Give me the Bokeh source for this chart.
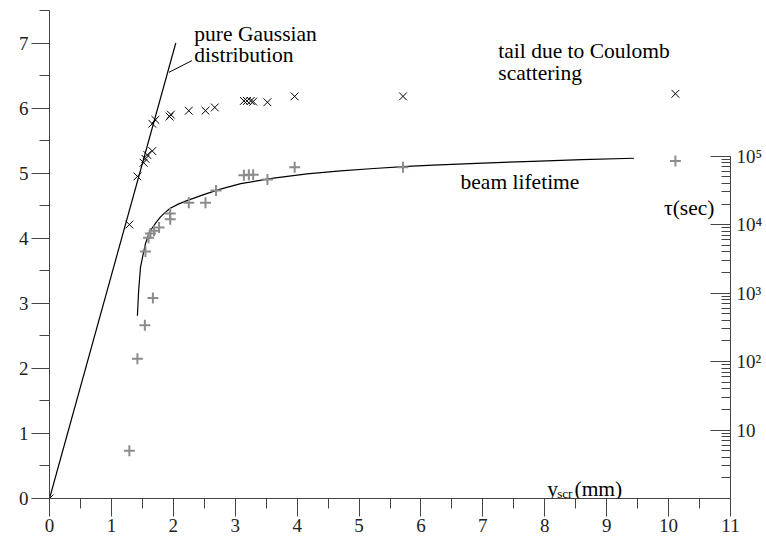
from bokeh.plotting import figure
from bokeh.models import (Range1d, LogScale, LogAxis, SingleIntervalTicker, LogTicker,
                          CustomJSTickFormatter, Label)
from bokeh.core.properties import value
from bokeh.embed import file_html
from bokeh.resources import INLINE

# ---- data ----
# n_g versus y_scr (black x markers)
ng_x = [0, 1.29, 1.42, 1.52, 1.55, 1.58, 1.66, 1.66, 1.71, 1.94, 1.96, 2.25, 2.52, 2.67,
        3.14, 3.19, 3.25, 3.29, 3.52, 3.96, 5.71, 10.11]
ng_y = [0, 4.21, 4.95, 5.16, 5.22, 5.28, 5.34, 5.76, 5.82, 5.87, 5.90, 5.96, 5.96, 6.01,
        6.11, 6.11, 6.11, 6.10, 6.09, 6.18, 6.18, 6.22]

# beam lifetime tau (sec) versus y_scr (grey + markers, right log axis)
tau_x = [1.29, 1.42, 1.54, 1.67, 1.55, 1.60, 1.63, 1.69, 1.77, 1.95, 1.95, 2.25, 2.52, 2.69,
         3.14, 3.22, 3.29, 3.52, 3.96, 5.71, 10.11]
tau_y = [5.0, 110, 339, 851, 4070, 6460, 7410, 8130, 9120, 12000, 14500, 20900, 20900, 31600,
         52500, 53700, 53700, 45700, 69200, 69200, 85100]

# beam lifetime curve
fit_x = [1.42, 1.44, 1.47, 1.52, 1.55, 1.60, 1.65, 1.72, 1.79, 1.87, 1.95, 2.08, 2.22, 2.49,
         2.76, 3.09, 3.62, 4.16, 4.70, 5.24, 5.78, 6.20, 7.00, 7.80, 8.60, 9.44]
fit_tau = [468, 1096, 2400, 3980, 5250, 7080, 8710, 10700, 12900, 15100, 17400, 19950, 22400,
           27500, 33100, 39800, 47900, 55000, 61000, 66100, 70800, 74100, 79400, 84100, 89100,
           93300]

# pure Gaussian distribution line
gauss_x = [0, 2.04]
gauss_y = [0, 7.0]
# pointer from the label to the Gaussian line
ptr_x = [1.93, 2.30]
ptr_y = [6.55, 6.73]

# annotation texts
ann_text = ["pure Gaussian", "distribution", "tail due to Coulomb", "scattering", "beam lifetime"]
ann_x = [2.34, 2.34, 7.25, 7.25, 6.64]
ann_y = [7.14, 6.82, 6.88, 6.54, 4.86]

x_ticks_max = 11
y_left_max = 7.5
tau_top = 10 ** 7.128
tau_bounds = (1, 1e5)

FONT = "'Liberation Serif', 'Times New Roman', serif"
AXC = "#444444"
TICK_FS = "19px"
ANN_FS = "21.5px"

p = figure(width=766, height=539, x_range=Range1d(0, x_ticks_max), y_range=Range1d(0, y_left_max),
           output_backend="svg", toolbar_location=None,
           min_border_left=49, min_border_right=36, min_border_top=10, min_border_bottom=41)
p.xgrid.visible = False
p.ygrid.visible = False
p.outline_line_color = None

p.extra_y_ranges = {"tau": Range1d(1, tau_top)}
p.extra_y_scales = {"tau": LogScale()}

# bottom axis
xa = p.xaxis[0]
xa.ticker = SingleIntervalTicker(interval=1, num_minor_ticks=2)
xa.axis_line_color = AXC
xa.major_tick_line_color = AXC
xa.minor_tick_line_color = AXC
xa.major_tick_in = 0
xa.major_tick_out = 18
xa.minor_tick_in = 0
xa.minor_tick_out = 10
xa.major_label_standoff = 2
xa.major_label_text_font = FONT
xa.major_label_text_font_size = TICK_FS
xa.major_label_text_color = "#222222"

# left axis
ya = p.yaxis[0]
ya.ticker = SingleIntervalTicker(interval=1, num_minor_ticks=2)
ya.axis_line_color = AXC
ya.major_tick_line_color = AXC
ya.minor_tick_line_color = AXC
ya.major_tick_in = 0
ya.major_tick_out = 18
ya.minor_tick_in = 0
ya.minor_tick_out = 10
ya.major_label_standoff = 3
ya.major_label_text_font = FONT
ya.major_label_text_font_size = TICK_FS
ya.major_label_text_color = "#222222"

# right log axis
fmt = CustomJSTickFormatter(code="""
const e = Math.round(Math.log10(tick));
const sup = {2: "\u00b2", 3: "\u00b3", 4: "\u2074", 5: "\u2075", 6: "\u2076", 7: "\u2077"};
if (e <= 0) return "";
if (e == 1) return "10";
return "10" + sup[e];
""")
ra = LogAxis(y_range_name="tau", ticker=LogTicker(num_minor_ticks=10), formatter=fmt,
             bounds=tau_bounds)
ra.axis_line_color = AXC
ra.major_tick_line_color = AXC
ra.minor_tick_line_color = AXC
ra.major_tick_in = 20
ra.major_tick_out = 0
ra.minor_tick_in = 9
ra.minor_tick_out = 0
ra.major_label_standoff = 6
ra.major_label_text_font = FONT
ra.major_label_text_font_size = TICK_FS
ra.major_label_text_color = "#222222"
p.add_layout(ra, "right")

# lines
p.line(gauss_x, gauss_y, line_color="black", line_width=1.2)
p.line(ptr_x, ptr_y, line_color="black", line_width=1)
p.line(fit_x, fit_tau, line_color="black", line_width=1.2, y_range_name="tau")

# markers
p.scatter(tau_x, tau_y, marker="cross", size=11, line_color="#8c8c8c", line_width=2,
          y_range_name="tau")
p.scatter(ng_x, ng_y, marker="x", size=11, line_color="black", line_width=1)

# annotation texts
p.text(x=ann_x, y=ann_y, text=ann_text, text_font=value(FONT), text_font_size=value(ANN_FS),
       text_color="black", text_baseline="alphabetic", text_align="left")

# axis titles
lab_kw = dict(text_font=FONT, text_color="black", text_baseline="alphabetic")
p.add_layout(Label(x=-0.66, y=6.45, text="n", text_font_size=ANN_FS, **lab_kw))
p.add_layout(Label(x=-0.48, y=6.33, text="g", text_font_size="13px", **lab_kw))
p.add_layout(Label(x=8.04, y=0.15, text="y", text_font_size=ANN_FS, **lab_kw))
p.add_layout(Label(x=8.20, y=0.075, text="scr", text_font_size="13px", **lab_kw))
p.add_layout(Label(x=8.48, y=0.15, text="(mm)", text_font_size=ANN_FS, **lab_kw))
p.add_layout(Label(x=10.74, y=4.47, text="\u03c4(sec)", text_font_size=ANN_FS,
                   text_align="right", **lab_kw))

open("out.html", "w").write(file_html(p, INLINE))
